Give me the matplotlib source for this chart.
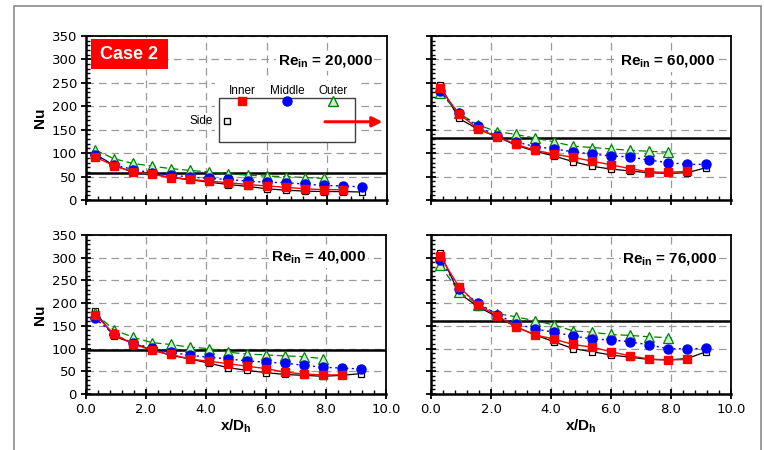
import matplotlib
matplotlib.use("Agg")
import matplotlib.pyplot as plt
from matplotlib.patches import Rectangle, FancyArrowPatch
from matplotlib.ticker import MultipleLocator, FormatStrFormatter

plt.rcParams['font.family'] = ['Liberation Sans', 'DejaVu Sans']
plt.rcParams['mathtext.fontset'] = 'custom'
plt.rcParams['mathtext.rm'] = 'Liberation Sans'
plt.rcParams['mathtext.bf'] = 'Liberation Sans:bold'

# x/Dh stations
x_pos = [0.3, 0.93, 1.57, 2.2, 2.83, 3.47, 4.1, 4.73, 5.37, 6.0, 6.63, 7.27, 7.9, 8.53, 9.17]

# Re = 20,000
inner_20k = [92, 73, 60, 55, 48, 44, 40, 37, 33, 30, 27, 24, 22, 22]
middle_20k = [95, 75, 65, 58, 53, 49, 46, 44, 40, 38, 37, 34, 31, 30, 28]
outer_20k = [107, 88, 78, 72, 67, 63, 60, 56, 53, 51, 50, 48, 46]
side_20k = [98, 74, 59, 55, 48, 43, 38, 33, 29, 24, 21, 19, 18, 18, 17]
avg_20k = 57

# Re = 60,000
inner_60k = [238, 184, 152, 135, 119, 106, 98, 91, 83, 75, 67, 60, 59, 61]
middle_60k = [232, 185, 157, 136, 124, 114, 109, 103, 98, 94, 92, 85, 80, 76, 76]
outer_60k = [229, 185, 160, 146, 140, 132, 124, 115, 112, 109, 106, 104, 102]
side_60k = [245, 174, 151, 135, 117, 104, 94, 82, 72, 66, 62, 58, 57, 58, 69]
avg_60k = 133

# Re = 40,000
inner_40k = [175, 132, 110, 96, 87, 77, 72, 67, 61, 56, 48, 44, 42, 42]
middle_40k = [167, 131, 112, 101, 92, 85, 81, 77, 73, 70, 68, 63, 59, 57, 55]
outer_40k = [178, 141, 125, 113, 109, 103, 100, 92, 88, 86, 84, 82, 78]
side_40k = [182, 127, 112, 97, 85, 77, 68, 58, 52, 47, 43, 41, 39, 41, 45]
avg_40k = 97

# Re = 76,000
inner_76k = [304, 236, 196, 172, 148, 130, 121, 109, 103, 93, 84, 77, 75, 76]
middle_76k = [295, 232, 200, 175, 155, 143, 136, 128, 121, 119, 115, 108, 100, 99, 101]
outer_76k = [284, 225, 197, 177, 170, 161, 152, 139, 136, 131, 129, 126, 124]
side_76k = [311, 222, 192, 170, 148, 130, 115, 100, 93, 86, 81, 76, 75, 78, 93]
avg_76k = 161

re_labels = ['20,000', '60,000', '40,000', '76,000']

W, H = 764, 450
fig = plt.figure(figsize=(W / 100, H / 100), dpi=100)

# outer frame (runs off the bottom edge)
fig.patches.append(Rectangle((14 / W, -0.05), 747 / W, 1.05 - 6 / H, transform=fig.transFigure,
                             fill=False, edgecolor='#8a8a8a', linewidth=1.2))

boxes = [(86, 36, 301, 164), (431, 36, 300, 164), (86, 235, 300, 159), (431, 235, 300, 159)]
data = [(inner_20k, middle_20k, outer_20k, side_20k, avg_20k),
        (inner_60k, middle_60k, outer_60k, side_60k, avg_60k),
        (inner_40k, middle_40k, outer_40k, side_40k, avg_40k),
        (inner_76k, middle_76k, outer_76k, side_76k, avg_76k)]
re_xy = [(0.953, 0.845), (0.947, 0.84), (0.934, 0.855), (0.953, 0.847)]

axes = []
for i, (bx, by, bw, bh) in enumerate(boxes):
    ax = fig.add_axes([bx / W, 1 - (by + bh) / H, bw / W, bh / H])
    axes.append(ax)
    inner, middle, outer, side, avg = data[i]

    ax.axhline(avg, color='black', linewidth=1.8, zorder=2.5)
    ax.plot(x_pos[:len(side)], side, color='black', linewidth=0.9, marker='s', markersize=5,
            markerfacecolor='white', markeredgecolor='black', markeredgewidth=0.9, zorder=3)
    ax.plot(x_pos[:len(outer)], outer, color='#008000', linewidth=0.9, linestyle=(0, (6, 3)),
            marker='^', markersize=7, markerfacecolor='#c8f5c8', markeredgecolor='#008000',
            markeredgewidth=0.9, zorder=4)
    ax.plot(x_pos[:len(middle)], middle, color='#0000ff', linewidth=1.0, linestyle=(0, (1.5, 2.5)),
            marker='o', markersize=6.5, markerfacecolor='#0000ff', markeredgecolor='#0000ff', zorder=5)
    ax.plot(x_pos[:len(inner)], inner, color='#ff0000', linewidth=1.0, marker='s', markersize=6,
            markerfacecolor='#ff0000', markeredgecolor='#ff0000', zorder=6)

    ax.set_xlim(0, 10)
    ax.set_ylim(0, 350)
    ax.xaxis.set_major_locator(MultipleLocator(2))
    ax.xaxis.set_minor_locator(MultipleLocator(0.4))
    ax.yaxis.set_major_locator(MultipleLocator(50))
    ax.yaxis.set_minor_locator(MultipleLocator(10))
    ax.xaxis.set_major_formatter(FormatStrFormatter('%.1f'))
    ax.grid(True, which='major', color='#9a9a9a', linestyle=(0, (6, 4)), linewidth=0.9)
    ax.set_axisbelow(True)
    ax.tick_params(which='major', direction='inout', length=7, width=1.3, labelsize=9.5, pad=3)
    ax.tick_params(which='minor', direction='in', length=3, width=1.0)
    for lab in ax.get_xticklabels() + ax.get_yticklabels():
        lab.set_family('DejaVu Sans')
    for s in ['left', 'bottom']:
        ax.spines[s].set_linewidth(1.8)
    for s in ['top', 'right']:
        ax.spines[s].set_linewidth(1.3)
    if i < 2:
        ax.tick_params(labelbottom=False)
    else:
        ax.set_xlabel('x/D$_{\\mathbf{h}}$', fontsize=11, fontweight='bold', labelpad=1)
    if i % 2 == 1:
        ax.tick_params(labelleft=False)
    else:
        ax.set_ylabel('Nu', fontsize=11, fontweight='bold', labelpad=3)

    ax.text(re_xy[i][0], re_xy[i][1], 'Re$_{\\mathbf{in}}$ = ' + re_labels[i], transform=ax.transAxes,
            ha='right', va='center', fontsize=11, fontweight='bold', zorder=10,
            bbox=dict(facecolor='white', edgecolor='none', pad=1))

# Case label and marker key in first panel
ax = axes[0]
ax.add_patch(Rectangle((0.017, 0.799), 0.255, 0.183, transform=ax.transAxes,
                       facecolor='#ff0000', edgecolor='none', zorder=10))
ax.text(0.144, 0.89, 'Case 2', transform=ax.transAxes, ha='center', va='center',
        color='white', fontsize=13, fontweight='bold', zorder=11)

ax.add_patch(Rectangle((0.43, 0.354), 0.47, 0.37, transform=ax.transAxes,
                       facecolor='white', edgecolor='none', zorder=10))
ax.add_patch(Rectangle((0.442, 0.354), 0.452, 0.268, transform=ax.transAxes,
                       facecolor='white', edgecolor='#404040', linewidth=1.0, zorder=11))
key_x = [0.518, 0.668, 0.821]
key_names = ['Inner', 'Middle', 'Outer']
key_style = [dict(marker='s', markersize=6, markerfacecolor='#ff0000', markeredgecolor='#ff0000'),
             dict(marker='o', markersize=6.5, markerfacecolor='#0000ff', markeredgecolor='#0000ff'),
             dict(marker='^', markersize=7, markerfacecolor='#c8f5c8', markeredgecolor='#008000')]
for kx, name, st in zip(key_x, key_names, key_style):
    ax.text(kx, 0.665, name, transform=ax.transAxes, ha='center', va='center', fontsize=8.5, zorder=12)
    ax.plot([kx], [0.604], transform=ax.transAxes, linestyle='none', zorder=12, clip_on=False, **st)
ax.text(0.422, 0.482, 'Side', transform=ax.transAxes, ha='right', va='center', fontsize=8.5, zorder=12)
ax.plot([0.468], [0.482], transform=ax.transAxes, linestyle='none', marker='s', markersize=5,
        markerfacecolor='white', markeredgecolor='black', zorder=12, clip_on=False)
ax.add_patch(FancyArrowPatch((0.794, 0.477), (0.985, 0.477), transform=ax.transAxes,
                             arrowstyle='-|>,head_length=6,head_width=3', color='#ff0000',
                             linewidth=2.2, zorder=12, shrinkA=0, shrinkB=0))

fig.savefig('out.png', dpi=100)
